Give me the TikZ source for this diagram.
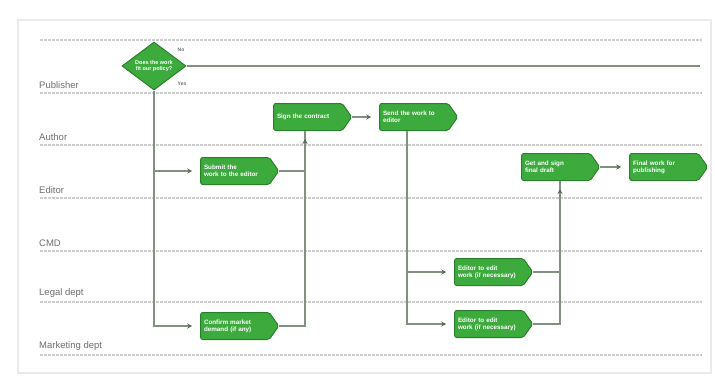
\documentclass[tikz,border=0pt]{standalone}
\usepackage{fontspec}
\setmainfont{Liberation Sans}
\usetikzlibrary{shapes.symbols,shapes.geometric,arrows.meta,positioning}

\definecolor{boxgreen}{RGB}{60,170,60}
\definecolor{boxedge}{RGB}{42,128,42}
\definecolor{flowgray}{RGB}{128,145,128}
\definecolor{tipgray}{RGB}{90,105,90}
\definecolor{lanegray}{RGB}{205,205,205}
\definecolor{framegray}{RGB}{234,234,234}
\definecolor{labelgray}{RGB}{110,110,110}

\tikzset{
  taskbox/.style={signal, signal to=east, signal pointer angle=110,
    fill=boxgreen, draw=boxedge, line width=1pt, rounded corners=2pt,
    text=white, font=\fontsize{6.3}{7.2}\selectfont\bfseries,
    minimum width=78pt, minimum height=27pt, text width=62pt,
    align=left, inner sep=1.5pt},
  decision/.style={diamond, aspect=1.4, fill=boxgreen, draw=boxedge,
    line width=1pt, text=white, font=\fontsize{5.5}{6.3}\selectfont\bfseries,
    minimum width=64pt, minimum height=48pt, inner sep=0pt, align=center},
  flow/.style={draw=flowgray, line width=1.2pt, shorten >=8pt,
    -{Stealth[length=5pt,width=5pt,color=tipgray]}},
  plainflow/.style={draw=flowgray, line width=1.2pt},
  lane/.style={draw=lanegray, line width=1.5pt, dash pattern=on 3pt off 1pt},
  lanelabel/.style={anchor=south west, text=labelgray, font=\fontsize{9.5}{10}\selectfont, inner sep=1pt},
  answer/.style={text=labelgray, font=\fontsize{5}{5}\selectfont\bfseries, inner sep=0pt}
}

\begin{document}
\begin{tikzpicture}[x=1pt, y=-1pt]

 \useasboundingbox (0,0) rectangle (715,378);

 %frame
 \draw[framegray, line width=2pt] (18,20) rectangle (711,373);

 %lanes
 \foreach \y in {40,93,145,198,251,302,355} {
     \draw[lane] (40,\y) -- (702,\y);
 }
 \foreach \y/\name in {91/Publisher, 143/Author, 196/Editor, 249/CMD, 300/Legal dept, 353/Marketing dept} {
     \node[lanelabel] (L\y) at (38,\y-1) {\name};
 }

 %decision
 \node[decision] (fit) at (154,66) {Does the work\\fit our policy?};
 \node[answer] (no) at (181,50) {No};
 \node[answer] (yes) at (182,84) {Yes};
 \coordinate (stop) at (700,66);
 \draw[plainflow] (fit.east) -- (stop);

 %tasks
 \node[taskbox] (submit) at (235,171) {Submit the\\work to the editor};
 \node[taskbox] (market) at (235,326) {Confirm market\\demand (if any)};
 \node[taskbox] (sign) at (308,117) {Sign the contract};
 \node[taskbox] (send) at (414,117) {Send the work to\\editor};
 \node[taskbox] (legal) at (489,272) {Editor to edit\\work (if necessary)};
 \node[taskbox] (edit) at (489,324) {Editor to edit\\work (if necessary)};
 \node[taskbox] (final) at (556,167) {Get and sign\\final draft};
 \node[taskbox] (publish) at (664,167) {Final work for\\publishing};

 %arrows
 \draw[flow] (fit.south) |- (submit.west);
 \draw[flow] (fit.south) |- (market.west);
 \draw[plainflow] (submit.east) -| ([xshift=-3pt]sign.south);
 \draw[flow] (market.east) -| ([xshift=-3pt]sign.south);
 \draw[flow] (sign.east) -- (send.west);
 \draw[flow] ([xshift=-7pt]send.south) |- (legal.west);
 \draw[flow] ([xshift=-7pt]send.south) |- (edit.west);
 \draw[plainflow] (legal.east) -| ([xshift=4pt]final.south);
 \draw[flow] (edit.east) -| ([xshift=4pt]final.south);
 \draw[flow] (final.east) -- (publish.west);

\end{tikzpicture}
\end{document}
